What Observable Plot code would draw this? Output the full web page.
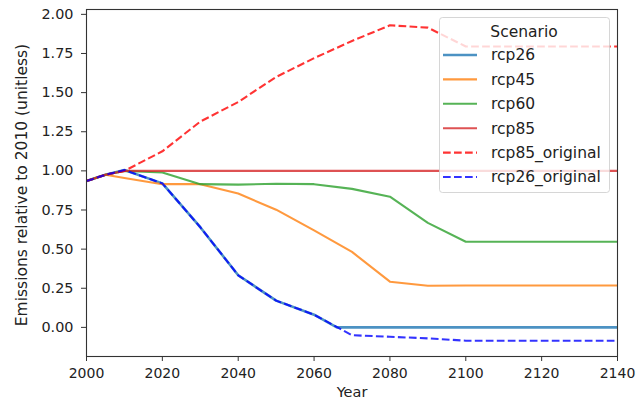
<!DOCTYPE html>
<html>
<head>
<meta charset="utf-8">
<script src="https://cdn.jsdelivr.net/npm/d3@7"></script>
<script src="https://cdn.jsdelivr.net/npm/@observablehq/plot@0.6"></script>
<style>
  html, body { margin: 0; padding: 0; background: #fff; }
  #chart svg { display: block; }
</style>
</head>
<body>
<div id="chart"></div>
<script>
// Emission pathways relative to 2010
const years = [2000, 2005, 2010, 2020, 2030, 2040, 2050, 2060, 2070, 2080, 2090, 2100, 2110, 2120, 2130, 2140];
const rcp26Years = [2000, 2005, 2010, 2020, 2030, 2040, 2050, 2060, 2066, 2070, 2080, 2090, 2100, 2110, 2120, 2130, 2140];
const rcp26 = [0.935, 0.975, 1.005, 0.92, 0.64, 0.333, 0.171, 0.081, 0, 0, 0, 0, 0, 0, 0, 0, 0];
const rcp45 = [0.935, 0.975, 0.955, 0.915, 0.915, 0.855, 0.752, 0.62, 0.482, 0.292, 0.266, 0.268, 0.268, 0.268, 0.268, 0.268];
const rcp60 = [0.935, 0.975, 1.0, 0.99, 0.915, 0.912, 0.918, 0.915, 0.885, 0.835, 0.668, 0.547, 0.547, 0.547, 0.547, 0.547];
const rcp85 = [0.935, 0.975, 1.0, 1.0, 1.0, 1.0, 1.0, 1.0, 1.0, 1.0, 1.0, 1.0, 1.0, 1.0, 1.0, 1.0];
const rcp85Original = [0.935, 0.975, 1.0, 1.125, 1.315, 1.44, 1.60, 1.72, 1.83, 1.93, 1.915, 1.795, 1.795, 1.795, 1.795, 1.795];
const rcp26Original = [0.935, 0.975, 1.005, 0.92, 0.64, 0.333, 0.171, 0.081, -0.05, -0.06, -0.07, -0.085, -0.085, -0.085, -0.085, -0.085];

const xTicks = [2000, 2020, 2040, 2060, 2080, 2100, 2120, 2140];
const yTicks = [0, 0.25, 0.5, 0.75, 1.0, 1.25, 1.5, 1.75, 2.0];
const legendTitle = "Scenario";

const series = [
  {name: "rcp26", x: rcp26Years, y: rcp26, color: "#1f77b4", dash: null, width: 2.6, opacity: 0.8},
  {name: "rcp45", x: years, y: rcp45, color: "#ff7f0e", dash: null, width: 2.1, opacity: 0.8},
  {name: "rcp60", x: years, y: rcp60, color: "#2ca02c", dash: null, width: 2.1, opacity: 0.8},
  {name: "rcp85", x: years, y: rcp85, color: "#d62728", dash: null, width: 2.1, opacity: 0.8},
  {name: "rcp85_original", x: years, y: rcp85Original, color: "#ff0000", dash: "7.7,3.3", width: 2.1, opacity: 0.8},
  {name: "rcp26_original", x: years, y: rcp26Original, color: "#0000ff", dash: "7.7,3.3", width: 2.1, opacity: 0.8}
];

const toRows = s => s.x.map((yr, i) => ({year: yr, value: s.y[i]}));

const font = "'DejaVu Sans', sans-serif";

const chart = Plot.plot({
  width: 638,
  height: 410,
  marginLeft: 86,
  marginRight: 21,
  marginTop: 9,
  marginBottom: 54,
  style: {fontFamily: font, fontSize: "14px", background: "#fff", color: "#222"},
  x: {domain: [2000, 2140]},
  y: {domain: [-0.186, 2.031]},
  marks: [
    ...series.map(s => Plot.line(toRows(s), {
      x: "year", y: "value",
      stroke: s.color, strokeWidth: s.width, strokeOpacity: s.opacity,
      strokeDasharray: s.dash, strokeLinejoin: "round", strokeLinecap: "butt"
    })),
    Plot.frame({stroke: "#333", strokeWidth: 1.1}),
    Plot.axisX({ticks: xTicks, tickFormat: d => String(d), tickSize: 5, tickPadding: 7, label: null, stroke: "#333", fontSize: 14}),
    Plot.axisY({ticks: yTicks, tickFormat: d3.format(".2f"), tickSize: 5, tickPadding: 8, label: null, stroke: "#333", fontSize: 14.4}),
    Plot.text(["Year"], {frameAnchor: "bottom", dy: 40, fontSize: 14.5, fill: "#222"}),
    Plot.text(["Emissions relative to 2010 (unitless)"], {frameAnchor: "left", textAnchor: "middle", dx: -64, dy: 2, rotate: -90, fontSize: 15.5, fill: "#222"})
  ]
});

document.getElementById("chart").appendChild(chart);

// Legend box, drawn on top of the plot area
const legendFont = 15.5;
const svg = d3.select(chart);
const lg = svg.append("g").attr("font-family", font).attr("font-size", legendFont).attr("text-anchor", "start");
lg.append("rect")
  .attr("x", 439.5).attr("y", 17.5).attr("width", 170).attr("height", 175)
  .attr("rx", 3).attr("fill", "#fff").attr("fill-opacity", 0.8)
  .attr("stroke", "#ccc").attr("stroke-opacity", 0.8);
lg.append("text")
  .attr("x", 524).attr("y", 32).attr("dy", "0.35em")
  .attr("text-anchor", "middle").attr("fill", "#222").text(legendTitle);
series.forEach((s, i) => {
  const cy = 55 + i * 24.4;
  lg.append("line")
    .attr("x1", 443).attr("x2", 477).attr("y1", cy).attr("y2", cy)
    .attr("stroke", s.color).attr("stroke-width", s.width).attr("stroke-opacity", s.opacity)
    .attr("stroke-dasharray", s.dash);
  lg.append("text")
    .attr("x", 491).attr("y", cy).attr("dy", "0.35em")
    .attr("text-anchor", "start").attr("fill", "#222").text(s.name);
});
</script>
</body>
</html>
